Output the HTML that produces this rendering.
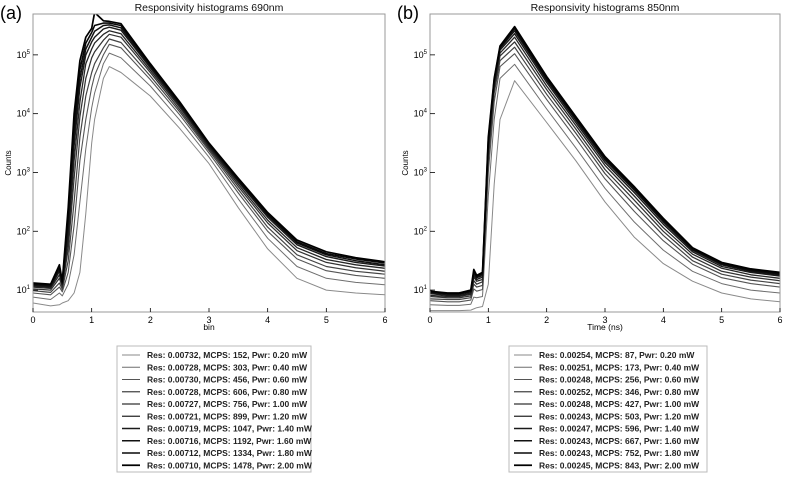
<!DOCTYPE html>
<html><head><meta charset="utf-8"><style>
html,body{margin:0;padding:0;background:#fff;}
svg{display:block;font-family:"Liberation Sans","DejaVu Sans",sans-serif;}
</style></head><body>
<svg id="fig" width="787" height="478" viewBox="0 0 787 478" xmlns="http://www.w3.org/2000/svg"></svg>
<script>
// ---- data (log10 counts) ----
const xA = [0,0.3,0.45,0.5,0.6,0.7,0.8,0.9,1.0,1.05,1.2,1.3,1.5,2,2.5,3,3.5,4,4.5,5,5.5,6];
const seriesA0 = [.78,.73,.75,.78,.82,.95,1.3,2.3,3.5,3.9,4.6,4.8,4.7,4.3,3.75,3.15,2.4,1.7,1.2,1.0,.95,.92];
const seriesA1 = [.88,.84,.95,.9,1.1,1.6,2.5,3.4,4.1,4.35,4.85,5.03,4.95,4.47,3.89,3.26,2.55,1.88,1.4,1.2,1.13,1.09];
const seriesA2 = [.95,.92,1.05,.97,1.3,2.1,3.2,3.9,4.45,4.65,5.0,5.18,5.12,4.58,3.98,3.33,2.65,2.0,1.53,1.33,1.25,1.2];
const seriesA3 = [.99,.96,1.12,1.01,1.5,2.5,3.6,4.3,4.7,4.85,5.12,5.27,5.21,4.64,4.03,3.37,2.71,2.07,1.6,1.4,1.32,1.27];
const seriesA4 = [1.02,1.0,1.2,1.05,1.7,2.9,3.95,4.6,4.95,5.05,5.25,5.35,5.3,4.7,4.07,3.4,2.76,2.14,1.67,1.47,1.38,1.32];
const seriesA5 = [1.05,1.03,1.26,1.08,1.85,3.2,4.2,4.85,5.1,5.2,5.35,5.41,5.36,4.74,4.11,3.43,2.8,2.19,1.72,1.52,1.43,1.37];
const seriesA6 = [1.07,1.05,1.32,1.1,2.0,3.45,4.45,5.0,5.22,5.3,5.44,5.47,5.42,4.78,4.14,3.45,2.84,2.24,1.77,1.57,1.47,1.41];
const seriesA7 = [1.09,1.07,1.36,1.12,2.15,3.65,4.6,5.1,5.3,5.4,5.5,5.51,5.46,4.8,4.16,3.47,2.86,2.27,1.8,1.6,1.5,1.43];
const seriesA8 = [1.1,1.09,1.4,1.13,2.3,3.85,4.75,5.2,5.38,5.5,5.54,5.54,5.5,4.83,4.18,3.49,2.88,2.29,1.82,1.62,1.53,1.46];
const seriesA9 = [1.12,1.1,1.43,1.15,2.4,4.0,4.9,5.3,5.45,5.72,5.58,5.57,5.53,4.85,4.2,3.5,2.9,2.32,1.85,1.65,1.55,1.48];

const xB = [0,0.3,0.5,0.7,0.75,0.8,0.9,1.0,1.1,1.2,1.45,2,2.5,3,3.5,4,4.5,5,5.5,6];
const seriesB0 = [.65,.65,.65,.66,.68,.7,.72,1.1,2.8,3.9,4.56,3.85,3.2,2.5,1.9,1.45,1.15,.95,.85,.8];
const seriesB1 = [.75,.74,.74,.76,.88,.87,.89,2.6,3.9,4.6,4.84,4.08,3.42,2.73,2.16,1.68,1.32,1.11,1.0,.95];
const seriesB2 = [.82,.8,.8,.83,1.02,.98,1.01,3.0,4.2,4.8,5.02,4.24,3.58,2.89,2.34,1.84,1.44,1.21,1.11,1.05];
const seriesB3 = [.85,.84,.84,.87,1.1,1.05,1.08,3.2,4.35,4.9,5.13,4.33,3.67,2.98,2.45,1.93,1.5,1.27,1.17,1.11];
const seriesB4 = [.89,.87,.87,.9,1.16,1.1,1.14,3.3,4.42,4.98,5.22,4.41,3.74,3.05,2.53,2.0,1.56,1.32,1.22,1.16];
const seriesB5 = [.91,.89,.89,.93,1.22,1.15,1.18,3.4,4.48,5.03,5.3,4.47,3.8,3.12,2.6,2.06,1.61,1.37,1.26,1.2];
const seriesB6 = [.94,.91,.91,.95,1.26,1.18,1.22,3.45,4.52,5.08,5.36,4.53,3.85,3.17,2.66,2.12,1.65,1.4,1.3,1.24];
const seriesB7 = [.96,.93,.93,.97,1.3,1.21,1.25,3.5,4.55,5.11,5.41,4.57,3.89,3.21,2.7,2.16,1.68,1.43,1.32,1.26];
const seriesB8 = [.97,.94,.94,.98,1.32,1.23,1.28,3.55,4.58,5.13,5.45,4.6,3.92,3.24,2.73,2.19,1.7,1.45,1.34,1.28];
const seriesB9 = [.98,.95,.95,1.0,1.35,1.25,1.3,3.6,4.6,5.15,5.48,4.63,3.95,3.27,2.76,2.22,1.72,1.47,1.36,1.3];

const xTicks = [0,1,2,3,4,5,6];
const yTicks = [1,2,3,4,5];
const legendA = ["Res: 0.00732, MCPS: 152, Pwr: 0.20 mW","Res: 0.00728, MCPS: 303, Pwr: 0.40 mW","Res: 0.00730, MCPS: 456, Pwr: 0.60 mW","Res: 0.00728, MCPS: 606, Pwr: 0.80 mW","Res: 0.00727, MCPS: 756, Pwr: 1.00 mW","Res: 0.00721, MCPS: 899, Pwr: 1.20 mW","Res: 0.00719, MCPS: 1047, Pwr: 1.40 mW","Res: 0.00716, MCPS: 1192, Pwr: 1.60 mW","Res: 0.00712, MCPS: 1334, Pwr: 1.80 mW","Res: 0.00710, MCPS: 1478, Pwr: 2.00 mW"];
const legendB = ["Res: 0.00254, MCPS: 87, Pwr: 0.20 mW","Res: 0.00251, MCPS: 173, Pwr: 0.40 mW","Res: 0.00248, MCPS: 256, Pwr: 0.60 mW","Res: 0.00252, MCPS: 346, Pwr: 0.80 mW","Res: 0.00248, MCPS: 427, Pwr: 1.00 mW","Res: 0.00243, MCPS: 503, Pwr: 1.20 mW","Res: 0.00247, MCPS: 596, Pwr: 1.40 mW","Res: 0.00243, MCPS: 667, Pwr: 1.60 mW","Res: 0.00243, MCPS: 752, Pwr: 1.80 mW","Res: 0.00245, MCPS: 843, Pwr: 2.00 mW"];

const NS = "http://www.w3.org/2000/svg";
const svg = document.getElementById('fig');
function el(tag, attrs, parent, text){
  const e = document.createElementNS(NS, tag);
  for (const k in attrs) e.setAttribute(k, attrs[k]);
  if (text !== undefined) e.textContent = text;
  (parent||svg).appendChild(e);
  return e;
}
const colors = ["#8a8a8a","#6e6e6e","#555","#444","#333","#262626","#1a1a1a","#111","#080808","#000"];
const widths = [1,1,1.1,1.2,1.25,1.3,1.4,1.5,1.6,1.7];

function panel(id, x0, x1, xs, series, title, letter, xlabel, leg, lx, lw){
  const y0 = 14, y1 = 312, lmin = 0.627, lmax = 5.695;
  const sx = v => x0 + (v/6)*(x1-x0);
  const sy = v => y1 - (v-lmin)/(lmax-lmin)*(y1-y0);
  const g = el('g', {}, svg);
  
  
  const lt = el('text', {x: x0-33, y: 19, 'font-size': 18, fill:'#000'}, g, letter);
   
  const tt = el('text', {x:(x0+x1)/2, y:11, 'font-size':10.5, 'text-anchor':'middle', fill:'#111'}, g, title);
   
  const clip = el('clipPath', {id:'clip'+id}, g);
  el('rect', {x:x0, y:y0, width:x1-x0, height:y1-y0}, clip);
  series.forEach((s,i)=>{
    const d = s.map((v,j)=>(j?'L':'M')+sx(xs[j]).toFixed(1)+','+sy(v).toFixed(1)).join(' ');
    const p = el('path', {d, fill:'none', stroke:colors[i], 'stroke-width':widths[i], 'stroke-linejoin':'round', 'clip-path':'url(#clip'+id+')'}, g);
    
    
  });
  const fr = el('rect', {x:x0, y:y0, width:x1-x0, height:y1-y0, fill:'none', stroke:'#999', 'stroke-width':1}, g);
   
  xTicks.forEach(t=>{
    el('line', {x1:sx(t), x2:sx(t), y1:y1, y2:y1-4, stroke:'#000', 'stroke-width':0.8}, g);
    const tx = el('text', {x:sx(t), y:y1+11, 'font-size':9, 'text-anchor':'middle', fill:'#000'}, g, String(t));
     
  });
  yTicks.forEach(t=>{
    el('line', {x1:x0, x2:x0+5, y1:sy(t), y2:sy(t), stroke:'#000', 'stroke-width':0.8}, g);
    const ty = el('text', {x:x0-3, y:sy(t)+3, 'font-size':9, 'text-anchor':'end', fill:'#000'}, g);
     
    el('tspan', {}, ty, '10');
    el('tspan', {dy:-4, 'font-size':6}, ty, String(t));
  });
  const xl = el('text', {x:(x0+x1)/2, y:y1+18, 'font-size':8.5, 'text-anchor':'middle', fill:'#000'}, g, xlabel);
   
  const yl = el('text', {x:0, y:0, 'font-size':8, 'text-anchor':'middle', fill:'#000', transform:'translate('+(x0-22)+',163) rotate(-90)'}, g, 'Counts');
   
  // legend
  const lg = el('g', {}, g);
   
  el('rect', {x:lx, y:346, width:lw, height:126, fill:'#fff', stroke:'#bbb', 'stroke-width':1}, lg);
  leg.forEach((txt,i)=>{
    const yy = 355 + i*12.25;
    const e = el('g', {}, lg);
    
    
    el('line', {x1:lx+5, x2:lx+23, y1:yy, y2:yy, stroke:colors[i], 'stroke-width':widths[i]}, e);
    el('text', {x:lx+30, y:yy+3, 'font-size':8.5, 'font-weight':'bold', fill:'#222'}, e, txt);
  });
}
panel('panel-a', 33, 385, xA, [seriesA0,seriesA1,seriesA2,seriesA3,seriesA4,seriesA5,seriesA6,seriesA7,seriesA8,seriesA9], 'Responsivity histograms 690nm', '(a)', 'bin', legendA, 117, 194);
panel('panel-b', 430, 780, xB, [seriesB0,seriesB1,seriesB2,seriesB3,seriesB4,seriesB5,seriesB6,seriesB7,seriesB8,seriesB9], 'Responsivity histograms 850nm', '(b)', 'Time (ns)', legendB, 509, 198);
</script>
</body></html>
